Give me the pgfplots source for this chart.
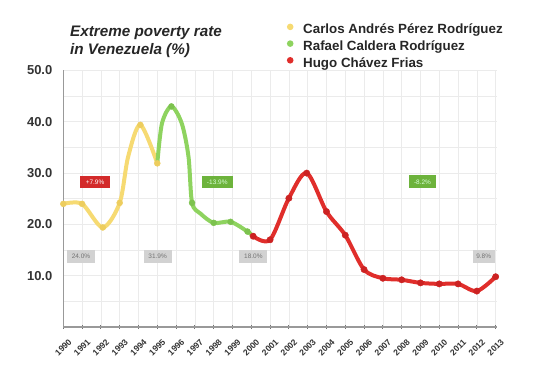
\documentclass[border=0pt]{standalone}
\usepackage{pgfplots}
\pgfplotsset{compat=1.18}
\usepackage{fontspec}
\setmainfont{Liberation Sans}
\definecolor{cyel}{HTML}{F6DA72}
\definecolor{cgrn}{HTML}{8ED35F}
\definecolor{cred}{HTML}{E02E2B}
\definecolor{cyeld}{HTML}{EDCD5E}
\definecolor{cgrnd}{HTML}{7CC24E}
\definecolor{credd}{HTML}{CC2222}
\definecolor{boxred}{HTML}{D32A2A}
\definecolor{boxgrn}{HTML}{6DB33C}
\definecolor{boxgray}{HTML}{D2D2D2}
\begin{document}
\begin{tikzpicture}
\useasboundingbox (-63.3bp,-49bp) rectangle (476.7bp,327bp);
\begin{axis}[
  scale only axis, width=433.3bp, height=256.5bp,
  xmin=1990, xmax=2013.05, ymin=0, ymax=50,
  clip=false,
  axis lines=left, axis line style={-, draw=black!40, line width=1.2bp},
  xtick={1990,...,2013}, ytick={10,20,30,40,50},
  yticklabels={10.0,20.0,30.0,40.0,50.0},
  minor ytick={5,15,25,35,45},
  xmajorgrids, ymajorgrids, yminorgrids,
  grid style={draw=black!8, line width=0.6bp},
  minor grid style={draw=black!8, line width=0.6bp},
  ytick style={draw=none}, minor tick length=0pt,
  xtick style={draw=black!55, line width=1bp}, major tick length=3bp,
  tick align=center,
  /pgf/number format/assume math mode=true,
  /pgf/number format/1000 sep={},
  yticklabel style={font=\fontsize{13}{14}\selectfont\bfseries, text=black!80, xshift=-6bp},
  xticklabel style={font=\fontsize{8.6}{10}\selectfont\bfseries, text=black!80, anchor=center, yshift=-19bp, rotate=45},
  legend style={at={(axis description cs:0,1)}, anchor=north west, xshift=223.4bp, yshift=47.1bp,
    draw=none, fill=none, font=\fontsize{13.4}{16}\selectfont\bfseries, row sep=3.4bp, column sep=9.7bp,
    inner sep=0pt, nodes={inner sep=0pt, text height=10bp, text depth=3bp, text=black!85}},
  legend cell align=left,
  legend image code/.code={\fill[draw=none] (0bp,3.5bp) circle (3.3bp);},
]
% Perez
\addplot[cyel, line width=4bp, smooth, tension=0.5, forget plot] coordinates {
 (1990,24.0) (1991,24.0) (1992.1,19.4) (1993,24.2) (1993.45,33.2) (1994.1,39.4) (1995,31.9)};
\addplot[cyeld, only marks, mark=*, mark size=3bp, forget plot] coordinates {
 (1990,24.0) (1991,24.0) (1992.1,19.4) (1993,24.2) (1994.1,39.4) (1995,31.9)};
% Caldera
\addplot[cgrn, line width=4bp, smooth, tension=0.5, forget plot] coordinates {
 (1995,31.9) (1995.25,39.7) (1995.75,43.0) (1996.3,39.7) (1996.66,33.2) (1996.85,24.2) (1997.3,22.1) (1998,20.3) (1998.9,20.5) (1999.8,18.6) (2000.1,17.7)};
\addplot[cgrnd, only marks, mark=*, mark size=3bp, forget plot] coordinates {
 (1995.75,43.0) (1996.85,24.2) (1998,20.3) (1998.9,20.5) (1999.8,18.6)};
% Chavez
\addplot[cred, line width=4bp, smooth, forget plot] coordinates {
 (2000.1,17.7) (2001,17.0) (2002,25.1) (2002.95,30.0) (2004,22.5) (2005,17.9) (2006,11.2) (2007,9.5) (2008,9.2) (2009,8.6) (2010,8.4) (2011,8.4) (2012,7.0) (2013,9.8)};
\addplot[credd, only marks, mark=*, mark size=3.2bp, forget plot] coordinates {
 (2000.1,17.7) (2001,17.0) (2002,25.1) (2002.95,30.0) (2004,22.5) (2005,17.9) (2006,11.2) (2007,9.5) (2008,9.2) (2009,8.6) (2010,8.4) (2011,8.4) (2012,7.0) (2013,9.8)};
\addlegendimage{color=cyel}
\addlegendentry{Carlos Andrés Pérez Rodríguez}
\addlegendimage{color=cgrn}
\addlegendentry{Rafael Caldera Rodríguez}
\addlegendimage{color=cred}
\addlegendentry{Hugo Chávez Frias}
% annotations
\tikzset{ann/.style={inner sep=0pt, minimum height=12bp, font=\fontsize{6.5}{7}\selectfont}}
\node[ann, fill=boxred, text=white, minimum width=30bp] at (axis cs:1991.69,28.3) {+7.9\%};
\node[ann, fill=boxgrn, text=white!85!green, minimum width=31bp] at (axis cs:1998.19,28.3) {-13.9\%};
\node[ann, fill=boxgrn, text=white!85!green, minimum width=27bp, minimum height=13bp] at (axis cs:2009.11,28.3) {-8.2\%};
\node[ann, fill=boxgray, text=black!55, minimum width=28bp, minimum height=13bp] at (axis cs:1990.94,13.8) {24.0\%};
\node[ann, fill=boxgray, text=black!55, minimum width=28bp, minimum height=13bp] at (axis cs:1995.02,13.8) {31.9\%};
\node[ann, fill=boxgray, text=black!55, minimum width=28bp, minimum height=13bp] at (axis cs:2000.11,13.8) {18.0\%};
\node[ann, fill=boxgray, text=black!55, minimum width=22bp, minimum height=13bp] at (axis cs:2012.36,13.8) {9.8\%};
\end{axis}
\node[anchor=base west, inner sep=0pt, font=\fontsize{15.3}{18}\selectfont\bfseries\itshape, text=black!85] at (6.7bp,290.3bp) {Extreme poverty rate};
\node[anchor=base west, inner sep=0pt, font=\fontsize{15.3}{18}\selectfont\bfseries\itshape, text=black!85] at (6.7bp,272.7bp) {in Venezuela (\%)};
\end{tikzpicture}
\end{document}
